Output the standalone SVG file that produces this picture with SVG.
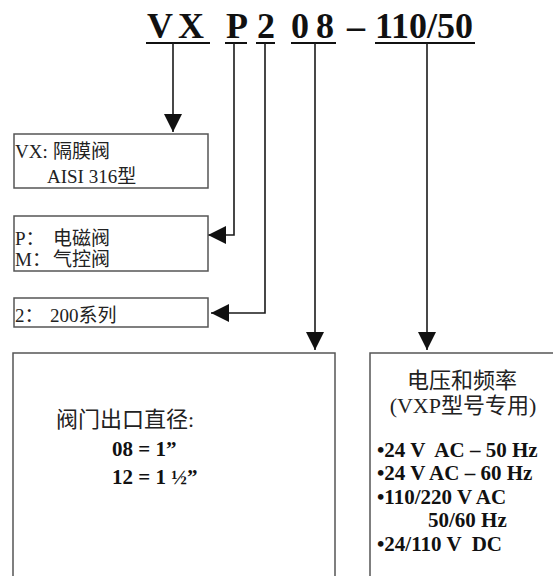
<svg xmlns="http://www.w3.org/2000/svg" width="553" height="576" viewBox="0 0 553 576">
<defs>
<style>
.hdr{font-family:"Liberation Serif","Times New Roman",serif;font-weight:bold;font-size:36px;fill:#111}
.ul{stroke:#111;stroke-width:2.2;fill:none}
.box{fill:#fff;stroke:#555;stroke-width:1.5}
.conn{stroke:#1a1a1a;stroke-width:1.6;fill:none;marker-end:url(#ah)}
.t{font-family:"Liberation Serif","Noto Sans CJK SC",serif;font-size:19px;fill:#222}
.cn{font-family:"Liberation Serif","Noto Sans CJK SC",serif;font-size:22px;fill:#222}
.b{font-family:"Liberation Serif","Times New Roman",serif;font-weight:bold;font-size:21px;fill:#111;white-space:pre}
</style>
<marker id="ah" markerUnits="userSpaceOnUse" markerWidth="18" markerHeight="18" refX="18" refY="9" orient="auto">
<path d="M0,0 L18,9 L0,18 Z" fill="#111"/>
</marker>
</defs>
<g id="header">
<text class="hdr" y="38"><tspan x="147">V</tspan><tspan x="178">X</tspan><tspan x="226">P</tspan><tspan x="257">2</tspan><tspan x="291">0</tspan><tspan x="316">8</tspan><tspan x="347">–</tspan><tspan x="375">110/50</tspan></text>
<path class="ul" d="M146,43 H210 M225,43 H247 M256,43 H275 M291,43 H336 M375,43 H475"/>
</g>
<g id="connectors">
<path class="conn" d="M173,43 V132"/>
<path class="conn" d="M234,43 V235 H208"/>
<path class="conn" d="M265,43 V313 H211"/>
<path class="conn" d="M315,43 V350"/>
<path class="conn" d="M427,43 V350"/>
</g>
<g id="node-vx">
<rect class="box" x="14" y="134" width="194" height="54"/>
<text class="t" y="158"><tspan x="15">VX:</tspan><tspan x="53">隔膜阀</tspan></text>
<text class="t" x="47" y="183">AISI 316型</text>
</g>
<g id="node-pm">
<rect class="box" x="14" y="216" width="194" height="55"/>
<text class="t" y="245"><tspan x="15">P：</tspan><tspan x="53">电磁阀</tspan></text>
<text class="t" y="266"><tspan x="15">M：</tspan><tspan x="53">气控阀</tspan></text>
</g>
<g id="node-2">
<rect class="box" x="14" y="298" width="194" height="29"/>
<text class="t" y="322"><tspan x="15">2：</tspan><tspan x="50">200系列</tspan></text>
</g>
<g id="node-size">
<rect class="box" x="13" y="353" width="322" height="240"/>
<text class="cn" x="56" y="427">阀门出口直径:</text>
<text class="b" x="112" y="456">08 = 1”</text>
<text class="b" x="112" y="484">12 = 1 ½”</text>
</g>
<g id="node-voltage">
<rect class="box" x="370" y="353" width="200" height="240"/>
<text class="cn" x="462" y="388" text-anchor="middle">电压和频率</text>
<text class="cn" x="463" y="413" text-anchor="middle">(VXP型号专用)</text>
<text class="b" x="377" y="457">•24 V  AC – 50 Hz</text>
<text class="b" x="377" y="480">•24 V AC – 60 Hz</text>
<text class="b" x="377" y="504">•110/220 V AC</text>
<text class="b" x="428" y="527">50/60 Hz</text>
<text class="b" x="377" y="551">•24/110 V  DC</text>
</g>
</svg>
